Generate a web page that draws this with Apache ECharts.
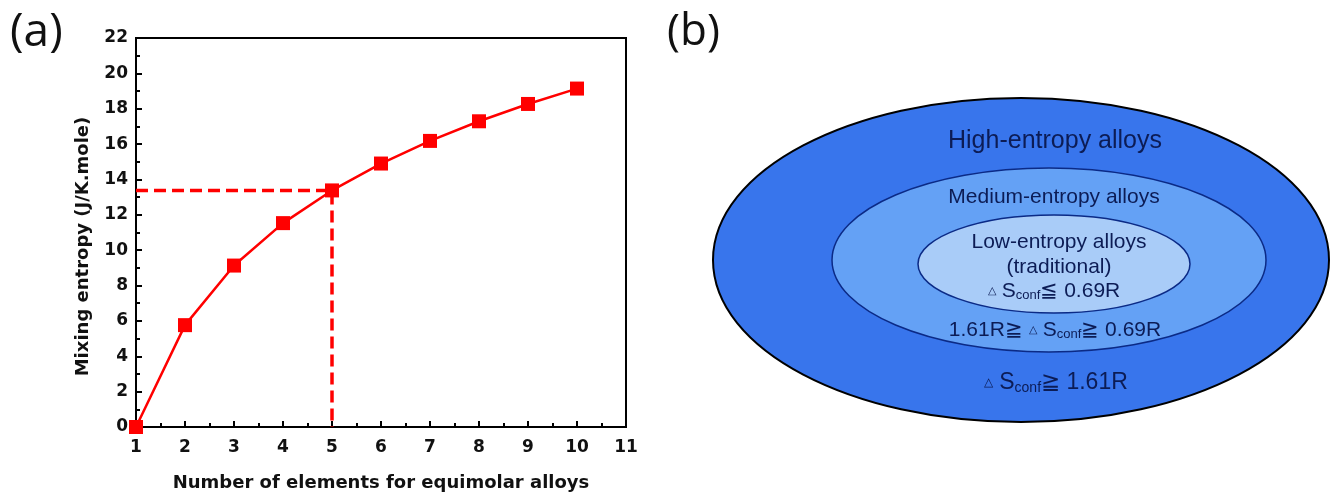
<!DOCTYPE html>
<html>
<head>
<meta charset="utf-8">
<title>Mixing entropy of equimolar alloys</title>
<script src="https://cdn.jsdelivr.net/npm/echarts@6/dist/echarts.min.js"></script>
<style>
  html, body { margin: 0; padding: 0; background: #ffffff; }
  #chart { width: 1331px; height: 495px; }
</style>
</head>
<body>
<div id="chart"></div>
<script>
// Number of elements in an equimolar alloy and its ideal mixing entropy (J/K.mole)
const elementCounts = [1, 2, 3, 4, 5, 6, 7, 8, 9, 10];
const mixingEntropy = [0, 5.76, 9.13, 11.53, 13.38, 14.90, 16.18, 17.29, 18.27, 19.14];

// Guide marking the five-element alloy
const guideIndex = 4;

// Nested classification of alloys by configurational entropy (outer to inner)
const classNames = ['High-entropy alloys', 'Medium-entropy alloys', 'Low-entropy alloys'];
const classLimits = ['1.61R', '0.69R'];

const FONT = '"Liberation Sans", Arial, sans-serif';
const AXIS_FONT = '"DejaVu Sans", Verdana, sans-serif';
const NAVY = '#0c1c55';

const chart = echarts.init(document.getElementById('chart'), null, { renderer: 'canvas' });

const points = elementCounts.map((n, i) => [n, mixingEntropy[i]]);
const gx = elementCounts[guideIndex];
const gy = mixingEntropy[guideIndex];
const guide = [[elementCounts[0], gy], [gx, gy], [gx, 0]];

// Ellipse layout for panel (b)
const rings = [
  { cx: 1021, cy: 260, rx: 308, ry: 162, fill: '#3875ec', stroke: '#000000', lw: 2 },
  { cx: 1049, cy: 260, rx: 217, ry: 92, fill: '#64a1f5', stroke: '#0b2a86', lw: 1.5 },
  { cx: 1054, cy: 264, rx: 136, ry: 49, fill: '#a9ccf8', stroke: '#0b2a86', lw: 1.5 }
];

const rich = (size) => ({
  t: { fontSize: Math.round(size * 0.5), fill: NAVY, fontFamily: FONT, padding: [0, 6, 0, 0] },
  s: { fontSize: size, fill: NAVY, fontFamily: FONT },
  sub: { fontSize: Math.round(size * 0.62), fill: NAVY, fontFamily: FONT, padding: [size * 0.45, 0, 0, 0] },
  n: { fontSize: size, fill: NAVY, fontFamily: FONT }
});

function label(text, x, y, size, richText) {
  return {
    type: 'text',
    x: x, y: y,
    z: 10,
    style: {
      text: text,
      fill: NAVY,
      font: size + 'px ' + FONT,
      align: 'center',
      verticalAlign: 'middle',
      rich: richText ? rich(size) : undefined
    }
  };
}

const graphics = [
  {
    type: 'text', left: 10, top: 10, z: 10,
    style: { text: '(a)', font: '46px "Open Sans", "Noto Sans", sans-serif', fill: '#111' }
  },
  {
    type: 'text', left: 667, top: 10, z: 10,
    style: { text: '(b)', font: '44px "Open Sans", "Noto Sans", sans-serif', fill: '#111' }
  }
];

rings.forEach((r, i) => {
  graphics.push({
    type: 'ellipse', z: 5 + i,
    shape: { cx: r.cx, cy: r.cy, rx: r.rx, ry: r.ry },
    style: { fill: r.fill, stroke: r.stroke, lineWidth: r.lw }
  });
});

graphics.push(label(classNames[0], 1055, 141, 25, false));
graphics.push(label(classNames[1], 1054, 197, 21, false));
graphics.push(label(classNames[2], 1059, 242, 21, false));
graphics.push(label('(traditional)', 1059, 267, 21, false));
graphics.push(label('{t|△}{s|S}{sub|conf}{n|≦ ' + classLimits[1] + '}', 1054, 291, 21, true));
graphics.push(label('{n|' + classLimits[0] + '≧ }{t|△}{s|S}{sub|conf}{n|≧ ' + classLimits[1] + '}', 1055, 330, 21, true));
graphics.push(label('{t|△}{s|S}{sub|conf}{n|≧ ' + classLimits[0] + '}', 1056, 383, 23, true));

const tickFont = { fontFamily: AXIS_FONT, fontWeight: 'bold', fontSize: 17, color: '#111' };
const titleFont = { fontFamily: AXIS_FONT, fontWeight: 'bold', fontSize: 18, color: '#111' };

chart.setOption({
  animation: false,
  backgroundColor: '#ffffff',
  grid: {
    left: 136, top: 38, right: 705, bottom: 68,
    outerBoundsMode: 'none',
    containLabel: false,
    show: true, borderColor: '#000', borderWidth: 2, backgroundColor: 'transparent'
  },
  xAxis: {
    type: 'value', min: 1, max: 11, interval: 1,
    name: 'Number of elements for equimolar alloys',
    nameLocation: 'middle', nameGap: 47,
    nameTextStyle: titleFont,
    axisLine: { lineStyle: { color: '#000', width: 2 } },
    axisTick: { inside: true, length: 6, lineStyle: { color: '#000', width: 2 } },
    minorTick: { show: true, splitNumber: 2, length: 4, lineStyle: { color: '#000', width: 2 } },
    axisLabel: Object.assign({ margin: 12 }, tickFont),
    splitLine: { show: false }
  },
  yAxis: {
    type: 'value', min: 0, max: 22, interval: 2,
    name: 'Mixing entropy (J/K.mole)',
    nameLocation: 'middle', nameGap: 44,
    nameTextStyle: Object.assign({ padding: [0, 28, 0, 0] }, titleFont),
    axisLine: { show: true, lineStyle: { color: '#000', width: 2 } },
    axisTick: { show: true, inside: true, length: 6, lineStyle: { color: '#000', width: 2 } },
    minorTick: { show: true, splitNumber: 2, length: 4, lineStyle: { color: '#000', width: 2 } },
    axisLabel: Object.assign({ margin: 8 }, tickFont),
    splitLine: { show: false }
  },
  series: [
    {
      type: 'line',
      data: guide,
      symbol: 'none',
      z: 2,
      lineStyle: { color: '#ff0000', width: 3.5, type: [12, 6] },
      silent: true
    },
    {
      type: 'line',
      data: points,
      symbol: 'rect',
      symbolSize: 14,
      z: 3,
      itemStyle: { color: '#ff0000' },
      lineStyle: { color: '#ff0000', width: 2.5 }
    }
  ],
  graphic: graphics
});
</script>
</body>
</html>
